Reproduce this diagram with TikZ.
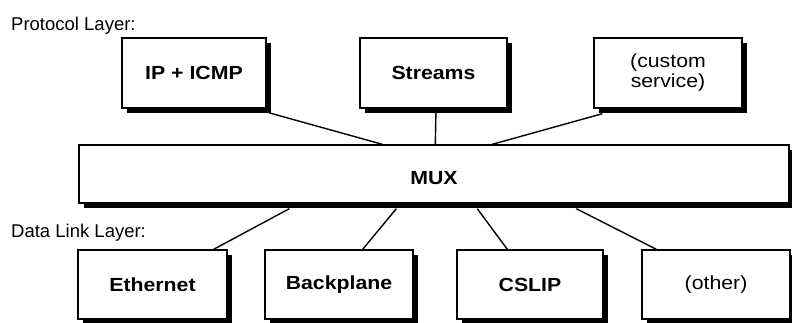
\documentclass[tikz,border=0pt]{standalone}
\usepackage{fontspec}
\setmainfont{Liberation Sans}
\newfontfamily\boxfont{Liberation Sans}[FakeStretch=1.12]
\usetikzlibrary{shadows,calc}

\tikzset{
  layerbox/.style={draw=black, line width=1.4pt, fill=white, inner sep=0pt,
    minimum height=70pt, minimum width=147pt, align=center,
    drop shadow={shadow xshift=5pt, shadow yshift=-5pt, fill=black, opacity=1},
    font=\boxfont\fontsize{19}{20}\selectfont},
  boldlabel/.style={font=\boxfont\bfseries\fontsize{19}{20}\selectfont},
  layertitle/.style={anchor=west, inner sep=0pt, font=\fontsize{18.5}{20}\selectfont},
  link/.style={draw=black, line width=1.4pt}
}

\begin{document}
\begin{tikzpicture}[x=1pt, y=-1pt]
  \useasboundingbox[fill=white] (0,0) rectangle (792,322);

  % layer captions
  \node[layertitle] (ptitle) at (11,26) {Protocol Layer:};
  \node[layertitle] (dtitle) at (11,233) {Data Link Layer:};

  % protocol layer modules
  \node[layerbox, boldlabel, minimum width=144pt] (ip) at (194,73) {IP + ICMP};
  \node[layerbox, boldlabel] (streams) at (433.5,73) {Streams};
  \node[layerbox, minimum width=148pt] (custom) at (668,73) {(custom\\service)};

  % multiplexer, label set slightly below the centre line
  \node[layerbox, boldlabel, minimum width=710pt, minimum height=58pt,
        text height=21.6pt, text depth=0pt] (mux) at (434,174) {MUX};

  % data link layer drivers
  \node[layerbox, boldlabel, minimum width=149pt, minimum height=69pt] (eth) at (152.5,284.5) {Ethernet};
  \node[layerbox, boldlabel, minimum width=148pt, minimum height=69pt] (back) at (339,284.5) {Backplane};
  \node[layerbox, boldlabel, minimum width=146pt, minimum height=69pt] (cslip) at (530,284.5) {CSLIP};
  \node[layerbox, minimum width=148pt, minimum height=69pt] (other) at (716,284.5) {(other)};

  % upper connections into the multiplexer
  \draw[link] ([xshift=2pt,yshift=-4pt]ip.south east) -- ([xshift=304pt]mux.north west);
  \draw[link] ([xshift=2.5pt]streams.south) -- ([xshift=357pt]mux.north west);
  \draw[link] ([xshift=9pt,yshift=-5pt]custom.south west) -- ([xshift=414pt]mux.north west);

  % lower connections out of the multiplexer
  \draw[link] ([xshift=211pt,yshift=-5pt]mux.south west) -- ([xshift=-14pt]eth.north east);
  \draw[link] ([xshift=318pt,yshift=-5pt]mux.south west) -- ([xshift=-51pt]back.north east);
  \draw[link] ([xshift=399pt,yshift=-5pt]mux.south west) -- ([xshift=51pt]cslip.north west);
  \draw[link] ([xshift=498pt,yshift=-5pt]mux.south west) -- ([xshift=15pt]other.north west);
\end{tikzpicture}
\end{document}
